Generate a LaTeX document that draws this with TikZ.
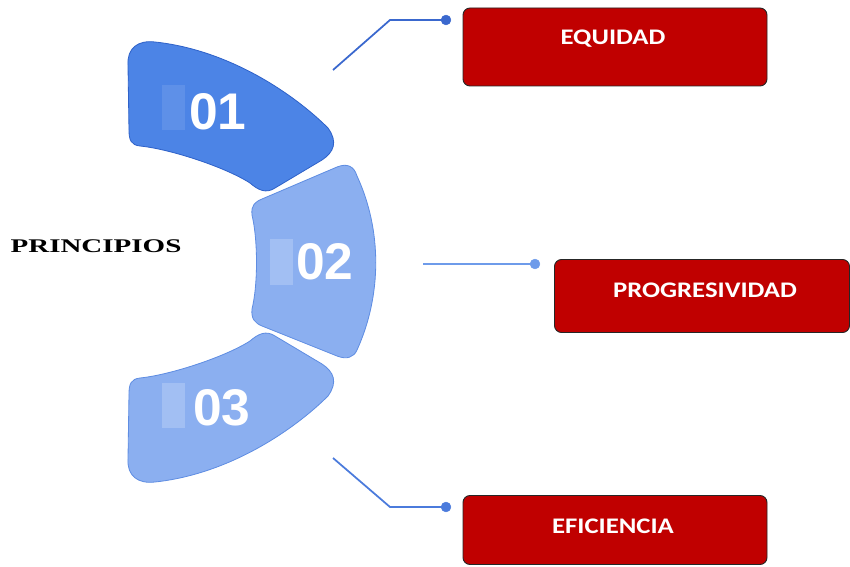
\documentclass[tikz,border=0pt]{standalone}
\usepackage{fontspec}
\newfontfamily\numfont{Liberation Sans}
\newfontfamily\boxfont{Carlito}
\newfontfamily\headfont{Liberation Serif}
\definecolor{petalA}{HTML}{4C84E6}
\definecolor{petalAline}{HTML}{2F62C9}
\definecolor{petalB}{HTML}{8BAFF0}
\definecolor{petalBline}{HTML}{5F8DE2}
\definecolor{boxred}{HTML}{C00000}
\definecolor{linkA}{HTML}{3A68CE}
\definecolor{linkB}{HTML}{6E9BEA}
\definecolor{linkC}{HTML}{4B7BDC}

% upper petal, the lower one is its mirror image
\newcommand{\petalpath}{(128,65) .. controls (127,48) and (138,40) .. (155,42)
    .. controls (230,50) and (295,95) .. (328,128)
    .. controls (338,142) and (334,152) .. (322,160)
    -- (275,188) .. controls (266,194) and (258,190) .. (250,183)
    .. controls (225,167) and (170,149) .. (140,146)
    .. controls (131,145) and (129,140) .. (129,130) -- cycle}

\begin{document}
\begin{tikzpicture}[x=0.03cm,y=-0.03cm,
        darkpetal/.style={fill=petalA,draw=petalAline,line width=0.7pt},
        lightpetal/.style={fill=petalB,draw=petalBline,line width=0.7pt},
        num/.style={text=white,font=\numfont\bfseries\fontsize{44}{44}\selectfont},
        redbox/.style={fill=boxred,draw=black!85,rounded corners=6pt,line width=0.8pt},
        boxtext/.style={text=white,font=\boxfont\bfseries\fontsize{19}{19}\selectfont,xscale=1.2},
        link/.style={line width=1.5pt}]
    \useasboundingbox (0,0) rectangle (850,567);

    % petals
    \draw[darkpetal] \petalpath;
    \begin{scope}[shift={(0,524)},yscale=-1]
        \draw[lightpetal] \petalpath;
    \end{scope}
    \draw[lightpetal] (252,215) .. controls (251,205) and (255,202) .. (262,199)
        -- (337,167) .. controls (347,163) and (354,166) .. (357,176)
        .. controls (382,230) and (382,295) .. (357,350)
        .. controls (354,357) and (347,360) .. (337,356)
        -- (262,326) .. controls (255,323) and (251,319) .. (252,309)
        .. controls (258,285) and (258,240) .. (252,215) -- cycle;

    \fill[white,opacity=0.1] (162,85) rectangle (185,130);
    \fill[white,opacity=0.2] (270,239) rectangle (293,285);
    \fill[white,opacity=0.2] (162,383) rectangle (185,428);

    \node[num] (n1) at (218,112) {01};
    \node[num] (n2) at (325,262) {02};
    \node[num] (n3) at (222,408) {03};

    \node[font=\headfont\bfseries\fontsize{16.5}{16.5}\selectfont,xscale=1.5] (title) at (96,246) {PRINCIPIOS};

    % boxes
    \node[redbox,minimum width=9.12cm,minimum height=2.34cm] (equidad) at (615,47) {};
    \node[redbox,minimum width=8.85cm,minimum height=2.19cm] (progres) at (702,296) {};
    \node[redbox,minimum width=9.12cm,minimum height=2.07cm] (eficiencia) at (615,530) {};
    \node[boxtext] (t1) at (613,39) {EQUIDAD};
    \node[boxtext] (t2) at (705,290) {PROGRESIVIDAD};
    \node[boxtext] (t3) at (613,526) {EFICIENCIA};

    % connectors
    \coordinate (s1) at (333,70);
    \coordinate (k1) at (390,20);
    \coordinate (d1) at (446,20);
    \coordinate (s2) at (423,264);
    \coordinate (d2) at (535,264);
    \coordinate (s3) at (333,458);
    \coordinate (k3) at (390,507);
    \coordinate (d3) at (446,507);

    \draw[link,linkA] (s1) -- (k1) -- (d1);
    \filldraw[linkA] (d1) circle (4.2pt);
    \draw[link,linkB] (s2) -- (d2);
    \filldraw[linkB] (d2) circle (4.2pt);
    \draw[link,linkC] (s3) -- (k3) -- (d3);
    \filldraw[linkC] (d3) circle (4.2pt);
\end{tikzpicture}
\end{document}
